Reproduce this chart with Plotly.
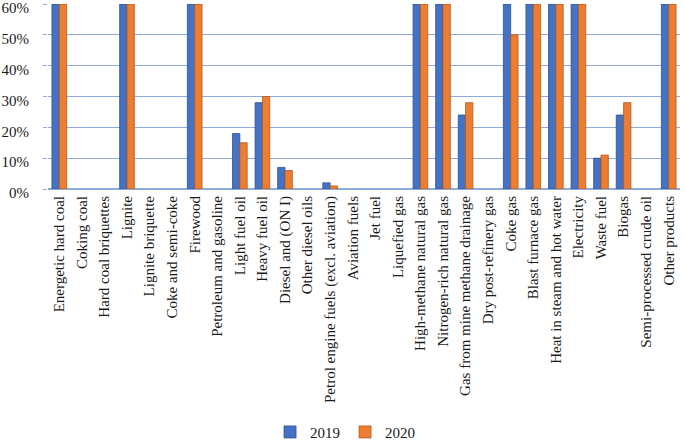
import plotly.graph_objects as go

categories = ["Energetic hard coal", "Coking coal", "Hard coal briquettes", "Lignite",
              "Lignite briquette", "Coke and semi-coke", "Firewood", "Petroleum and gasoline",
              "Light fuel oil", "Heavy fuel oil", "Diesel and (ON I)", "Other diesel oils",
              "Petrol engine fuels (excl. aviation)", "Aviation fuels", "Jet fuel", "Liquefied gas",
              "High-methane natural gas", "Nitrogen-rich natural gas", "Gas from mine methane drainage",
              "Dry post-refinery gas", "Coke gas", "Blast furnace gas", "Heat in steam and hot water",
              "Electricity", "Waste fuel", "Biogas", "Semi-processed crude oil", "Other products"]

v2019 = [60, 0, 0, 60, 0, 0, 60, 0, 18, 28, 7, 0, 2, 0, 0, 0, 60, 60, 24, 0, 60, 60, 60, 60, 10, 24, 0, 60]
v2020 = [60, 0, 0, 60, 0, 0, 60, 0, 15, 30, 6, 0, 1, 0, 0, 0, 60, 60, 28, 0, 50, 60, 60, 60, 11, 28, 0, 60]

y2019 = [v / 100 for v in v2019]
y2020 = [v / 100 for v in v2020]

w2019 = [0.8 if v > 0 else 0 for v in v2019]
w2020 = [0.8 if v > 0 else 0 for v in v2020]

fig = go.Figure()
fig.add_trace(go.Bar(name="2019", x=categories, y=y2019,
                     marker=dict(color="#4472C4", line=dict(color="#2F528F", width=w2019))))
fig.add_trace(go.Bar(name="2020", x=categories, y=y2020,
                     marker=dict(color="#ED7D31", line=dict(color="#AE5A21", width=w2020))))

font = "Liberation Serif, DejaVu Serif, serif"
fig.update_layout(
    width=685, height=441,
    margin=dict(l=48, r=5, t=4, b=252),
    paper_bgcolor="white", plot_bgcolor="white",
    barmode="group", bargap=0.35, bargroupgap=0,
    font=dict(family=font, size=14, color="#1a1a1a"),
    showlegend=True,
    legend=dict(orientation="h", x=0.47, xanchor="center", yref="container", y=0.02, yanchor="middle",
                font=dict(family=font, size=15), itemwidth=30),
    xaxis=dict(tickangle=-90, tickfont=dict(family=font, size=15), showgrid=False,
               showline=False, ticks="", ticklabelstandoff=3),
    yaxis=dict(range=[0, 0.6], tickformat=".0%", dtick=0.1, showgrid=True,
               gridcolor="#8FAADC", gridwidth=1, zeroline=True, zerolinecolor="#8FAADC",
               ticks="outside", ticklen=4, tickcolor="#8FAADC", automargin=False,
               ticklabeloverflow="allow", ticklabelstandoff=11, ticklabelshift=4,
               tickfont=dict(family=font, size=15)),
)

fig.write_html("out.html", config={"displayModeBar": False},
               post_script="document.body.style.margin='0';document.body.style.padding='0';")
